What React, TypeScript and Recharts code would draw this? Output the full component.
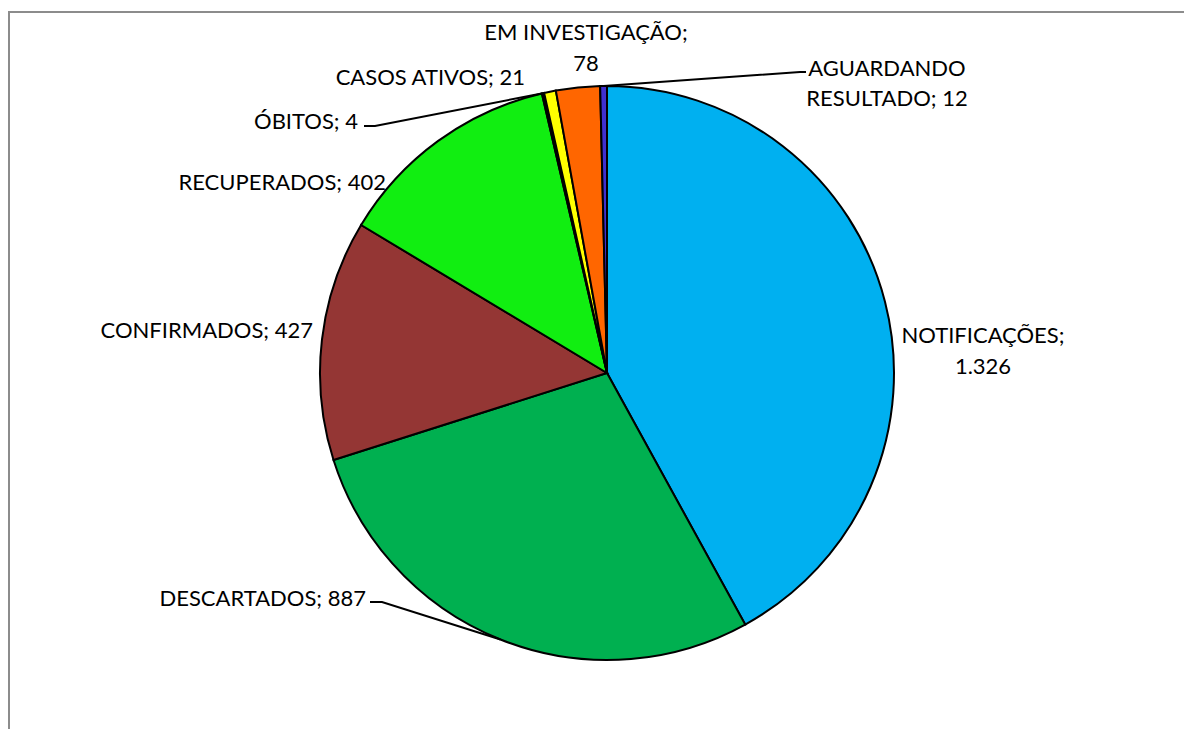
import { PieChart, Pie, Cell } from 'recharts';

const categories = [
  'NOTIFICAÇÕES',
  'DESCARTADOS',
  'CONFIRMADOS',
  'RECUPERADOS',
  'ÓBITOS',
  'CASOS ATIVOS',
  'EM INVESTIGAÇÃO',
  'AGUARDANDO RESULTADO',
];
const values = [1326, 887, 427, 402, 4, 21, 78, 12];
const valueLabels = ['1.326', '887', '427', '402', '4', '21', '78', '12'];
const colors = ['#00B0F0', '#00B050', '#943634', '#11EE11', '#000000', '#FFFF00', '#FF6600', '#4030D0'];

const data = categories.map((name, i) => ({ name, value: values[i] }));

const RADIAN = Math.PI / 180;
const FONT = 'Lato, "Open Sans", sans-serif';
const FONT_SIZE = 22;

// label placement relative to the pie centre (lines of text, anchor, optional leader elbow)
type LabelLayout = {
  lines: (v: string) => string[];
  dx: number;
  dy: number[];
  anchor: 'start' | 'middle' | 'end';
  elbow?: [number, number, number, number];
};

const layout: LabelLayout[] = [
  { lines: v => ['NOTIFICAÇÕES;', v], dx: 376, dy: [-39, -8], anchor: 'middle' },
  { lines: v => [`DESCARTADOS; ${v}`], dx: -241, dy: [224], anchor: 'end', elbow: [-237, 229, -225, 229] },
  { lines: v => [`CONFIRMADOS; ${v}`], dx: -294, dy: [-44], anchor: 'end' },
  { lines: v => [`RECUPERADOS; ${v}`], dx: -221, dy: [-192], anchor: 'end' },
  { lines: v => [`ÓBITOS; ${v}`], dx: -249, dy: [-253], anchor: 'end', elbow: [-243, -247, -232, -247] },
  { lines: v => [`CASOS ATIVOS; ${v}`], dx: -82, dy: [-297], anchor: 'end' },
  { lines: v => ['EM INVESTIGAÇÃO;', v], dx: -21, dy: [-342, -311], anchor: 'middle' },
  { lines: v => ['AGUARDANDO', `RESULTADO; ${v}`], dx: 280, dy: [-306, -276], anchor: 'middle', elbow: [199, -301, 193, -301] },
];

const renderLabel = (props: any) => {
  const { cx, cy, midAngle, outerRadius, index } = props;
  const cfg = layout[index];
  const ex = cx + outerRadius * Math.cos(-midAngle * RADIAN);
  const ey = cy + outerRadius * Math.sin(-midAngle * RADIAN);
  const lines = cfg.lines(valueLabels[index]);
  return (
    <g key={`lbl-${index}`}>
      {cfg.elbow && (
        <polyline
          points={`${cx + cfg.elbow[0]},${cy + cfg.elbow[1]} ${cx + cfg.elbow[2]},${cy + cfg.elbow[3]} ${ex},${ey}`}
          fill="none"
          stroke="#000"
          strokeWidth={2}
        />
      )}
      {lines.map((t, k) => (
        <text
          key={k}
          x={cx + cfg.dx}
          y={cy + cfg.dy[k]}
          textAnchor={cfg.anchor}
          dominantBaseline="central"
          fill="#000"
          fontFamily={FONT}
          fontSize={FONT_SIZE}
        >
          {t}
        </text>
      ))}
    </g>
  );
};

export default function App() {
  return (
    <div style={{ position: 'relative', width: 1184, height: 721, overflow: 'hidden', background: '#fff' }}>
      <div
        style={{
          position: 'absolute',
          left: 0,
          top: 3,
          width: 1300,
          height: 900,
          border: '2px solid #8C8C8C',
          boxSizing: 'border-box',
        }}
      />
      <div style={{ position: 'absolute', left: 0, top: 0 }}>
        <PieChart width={1184} height={721} margin={{ top: 0, right: 0, bottom: 0, left: 0 }}>
          <Pie
            data={data}
            dataKey="value"
            nameKey="name"
            cx={599}
            cy={365}
            outerRadius={287}
            startAngle={90}
            endAngle={-270}
            stroke="#000"
            strokeWidth={2}
            label={renderLabel}
            labelLine={false}
            isAnimationActive={false}
          >
            {data.map((entry, i) => (
              <Cell key={`cell-${i}`} fill={colors[i]} />
            ))}
          </Pie>
        </PieChart>
      </div>
    </div>
  );
}
